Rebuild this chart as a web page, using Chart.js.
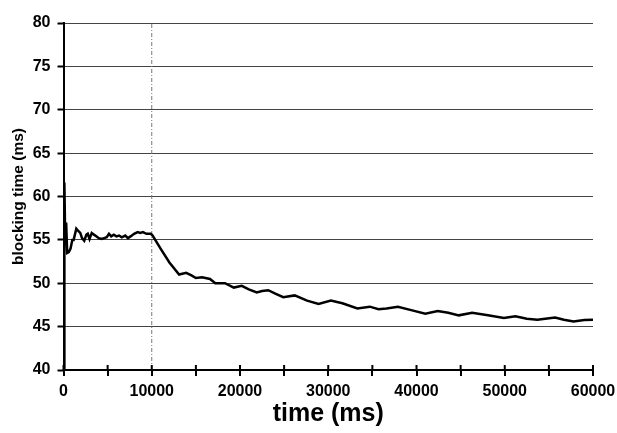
<!DOCTYPE html>
<html lang="en">
<head>
  <meta charset="UTF-8">
  <title>Blocking time</title>
  <script src="https://cdn.jsdelivr.net/npm/chart.js"></script>
  <style>
    body {
      margin: 0;
      padding: 0;
      background: #fff;
    }
    #wrap {
      width: 617px;
      height: 433px;
    }
  </style>
</head>
<body>
  <div id="wrap">
    <canvas id="chart" width="617" height="433"></canvas>
  </div>

  <script>
    // values
    const times = [
      60, 100, 200, 300, 420, 600, 800, 1000, 1150, 1450, 1700, 1900, 2100, 2350, 2600, 2750, 2950,
      3200, 3450, 3750, 4000, 4300, 4600, 4900, 5150, 5400, 5700, 6000, 6300, 6600, 7000, 7300,
      7600, 8000, 8400, 8700, 9000, 9400, 9900, 10100,
      11000, 12000, 13100, 13900, 14500, 15000, 15700, 16600, 17200, 18300, 19300, 20200, 21000,
      21900, 22500, 23200, 24000, 24900, 26200, 27600, 28900, 30300, 31600, 33300, 34700, 35700,
      36600, 37900, 39400, 41000, 42400, 43600, 44800, 46300, 48100, 49900, 51200, 52500, 53700,
      55700, 56700, 57800, 59000, 60000
    ];
    const blockingTimes = [
      40, 61.6, 54.5, 57.0, 53.5, 53.6, 54.0, 55.0, 55.0, 56.3, 56.0, 55.8, 55.2, 54.9, 55.6, 55.7, 55.1,
      55.8, 55.6, 55.4, 55.2, 55.1, 55.2, 55.3, 55.7, 55.4, 55.6, 55.4, 55.5, 55.3, 55.5, 55.2,
      55.4, 55.7, 55.9, 55.8, 55.9, 55.7, 55.7, 55.5,
      54.0, 52.4, 51.0, 51.2, 50.9, 50.6, 50.7, 50.5, 50.0, 50.0, 49.5, 49.7, 49.3,
      48.95, 49.1, 49.2, 48.8, 48.4, 48.6, 48.0, 47.6, 48.0, 47.7, 47.1, 47.3, 47.0,
      47.1, 47.3, 46.9, 46.5, 46.8, 46.6, 46.3, 46.6, 46.3, 46.0, 46.2, 45.9, 45.8,
      46.05, 45.8, 45.6, 45.75, 45.8
    ];
    const markerTime = [10000, 10000];
    const markerRange = [40, 80];

    const FONT = "'Liberation Sans', Arial, sans-serif";

    // small upward tick marks on the x axis (the original ticks cross the axis)
    const crossTicks = {
      id: 'crossTicks',
      afterDraw(chart) {
        const x = chart.scales.x;
        const c = chart.ctx;
        c.save();
        c.strokeStyle = '#000';
        c.lineWidth = 2;
        x.ticks.forEach((t) => {
          const px = x.getPixelForValue(t.value);
          c.beginPath();
          c.moveTo(px, x.top);
          c.lineTo(px, x.top - 5);
          c.stroke();
        });
        c.restore();
      }
    };

    new Chart(document.getElementById('chart'), {
      type: 'line',
      data: {
        datasets: [{
          data: times.map((t, i) => ({ x: t, y: blockingTimes[i] })),
          borderColor: '#000',
          borderWidth: 2.5,
          pointRadius: 0,
          tension: 0
        }, {
          data: markerTime.map((t, i) => ({ x: t, y: markerRange[i] })),
          borderColor: '#777',
          borderWidth: 1,
          borderDash: [4, 2, 1, 2],
          pointRadius: 0
        }]
      },
      plugins: [crossTicks],
      options: {
        responsive: false,
        animation: false,
        layout: {
          padding: { left: 3, right: 24, top: 23, bottom: 0 }
        },
        plugins: {
          legend: { display: false },
          tooltip: { enabled: false }
        },
        scales: {
          x: {
            type: 'linear',
            min: 0,
            max: 60000,
            afterFit: (s) => {
              s.height = 63;
              s.paddingLeft = 0;
              s.paddingRight = 0;
            },
            grid: {
              drawOnChartArea: false,
              color: '#000',
              lineWidth: 2,
              tickLength: 6
            },
            border: { color: '#000', width: 2 },
            ticks: {
              stepSize: 5000,
              padding: 6,
              color: '#000',
              font: { family: FONT, size: 16, weight: 'bold' },
              maxRotation: 0,
              autoSkip: false,
              callback: (v) => (v % 10000 === 0 ? String(v) : '')
            },
            title: {
              display: true,
              text: 'time (ms)',
              color: '#000',
              font: { family: FONT, size: 25, weight: 'bold' },
              padding: { top: 0, bottom: 4 }
            }
          },
          y: {
            min: 40,
            max: 80,
            afterFit: (s) => {
              s.width = 60.5;
              s.paddingTop = 0;
              s.paddingBottom = 0;
            },
            grid: {
              color: '#444',
              lineWidth: 1,
              tickColor: '#000',
              tickWidth: 2,
              tickLength: 6
            },
            border: { color: '#000', width: 2 },
            ticks: {
              stepSize: 5,
              padding: 7,
              color: '#000',
              font: { family: FONT, size: 16, weight: 'bold' }
            },
            title: {
              display: true,
              text: 'blocking time (ms)',
              color: '#000',
              font: { family: FONT, size: 15.5, weight: 'bold' },
              padding: { top: 6, bottom: 0 }
            }
          }
        }
      }
    });
  </script>
</body>
</html>
